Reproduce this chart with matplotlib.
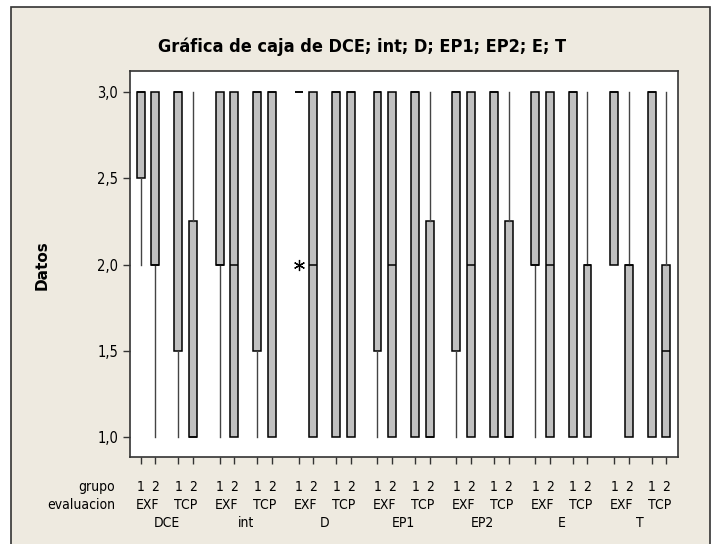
import numpy as np
import matplotlib
matplotlib.use("Agg")
import matplotlib.pyplot as plt
from matplotlib.patches import Rectangle
from matplotlib.transforms import blended_transform_factory

# %%
variables = ["DCE", "int", "D", "EP1", "EP2", "E", "T"]
evaluaciones = ["EXF", "TCP"]
grupos = ["1", "2"]

# one entry per box, order: variable -> evaluacion -> grupo
q1 = [2.5, 2.0, 1.5, 1.0,   2.0, 1.0, 1.5, 1.0,   3.0, 1.0, 1.0, 1.0,
      1.5, 1.0, 1.0, 1.0,   1.5, 1.0, 1.0, 1.0,   2.0, 1.0, 1.0, 1.0,
      2.0, 1.0, 1.0, 1.0]
med = [3.0, 2.0, 3.0, 1.0,  2.0, 2.0, 3.0, 3.0,   3.0, 2.0, 3.0, 3.0,
       3.0, 2.0, 3.0, 1.0,  3.0, 2.0, 3.0, 1.0,   2.0, 2.0, 3.0, 2.0,
       3.0, 2.0, 3.0, 1.5]
q3 = [3.0, 3.0, 3.0, 2.25,  3.0, 3.0, 3.0, 3.0,   3.0, 3.0, 3.0, 3.0,
      3.0, 3.0, 3.0, 2.25,  3.0, 3.0, 3.0, 2.25,  3.0, 3.0, 3.0, 2.0,
      3.0, 2.0, 3.0, 2.0]
whislo = [2.0, 1.0, 1.0, 1.0,  1.0, 1.0, 1.0, 1.0,  3.0, 1.0, 1.0, 1.0,
          1.0, 1.0, 1.0, 1.0,  1.0, 1.0, 1.0, 1.0,  1.0, 1.0, 1.0, 1.0,
          2.0, 1.0, 1.0, 1.0]
whishi = [3.0] * 28
outliers = {8: [2.0]}   # D / EXF / grupo 1

# %%
bg = "#eeeae0"
fig = plt.figure(figsize=(7.12, 5.44), dpi=100, facecolor="white")
fig.patches.append(Rectangle((11 / 712, -0.01), 699 / 712, 1.01 - 7 / 544,
                             transform=fig.transFigure, facecolor=bg,
                             edgecolor="#333333", linewidth=1.2, zorder=-10))

ax = fig.add_axes([130 / 712, 1 - 457 / 544, 548 / 712, 386 / 544])
ax.set_facecolor("white")

# layout of the categorical axis (in units of one box step)
group_step, eval_step, var_step = 1.0, 2.6, 5.45
positions = []
for v in range(len(variables)):
    for e in range(len(evaluaciones)):
        for g in range(len(grupos)):
            positions.append(v * var_step + e * eval_step + g * group_step)

stats = []
for i in range(28):
    stats.append(dict(q1=q1[i], med=med[i], q3=q3[i], whislo=whislo[i],
                      whishi=whishi[i], fliers=outliers.get(i, [])))

ax.bxp(stats, positions=positions, widths=0.55, patch_artist=True,
       showcaps=False, manage_ticks=False,
       boxprops=dict(facecolor="#c0c0c0", edgecolor="black", linewidth=1.1),
       medianprops=dict(color="black", linewidth=1.1),
       whiskerprops=dict(color="#444444", linewidth=1.0),
       flierprops=dict(marker=(6, 2, 0), markersize=8, markeredgecolor="black",
                       markeredgewidth=0.9))

narrow = dict(family="DejaVu Sans", stretch="condensed")

ax.set_xlim(-0.74, positions[-1] + 0.8)
ax.set_ylim(0.884, 3.122)
ax.set_yticks([1.0, 1.5, 2.0, 2.5, 3.0])
ax.set_yticklabels(["1,0", "1,5", "2,0", "2,5", "3,0"], fontsize=10.5, **narrow)
ax.set_xticks(positions)
ax.set_xticklabels([])
ax.tick_params(axis="both", direction="out", length=5, width=1, color="#333333")
for sp in ax.spines.values():
    sp.set_color("#333333")
    sp.set_linewidth(1.2)

tr = blended_transform_factory(ax.transData, fig.transFigure)
y_grp, y_eval, y_var = 1 - 487 / 544, 1 - 505 / 544, 1 - 523 / 544
fig.text(115 / 712, y_grp, "grupo", ha="right", va="center", fontsize=10, **narrow)
fig.text(115 / 712, y_eval, "evaluacion", ha="right", va="center", fontsize=10, **narrow)
for i, p in enumerate(positions):
    ax.text(p, y_grp, grupos[i % 2], transform=tr, ha="center", va="center",
            fontsize=10, **narrow)
for v, name in enumerate(variables):
    x0 = v * var_step
    for e, ev in enumerate(evaluaciones):
        ax.text(x0 + e * eval_step + 0.5, y_eval, ev, transform=tr, ha="center",
                va="center", fontsize=10, **narrow)
    ax.text(x0 + (eval_step + group_step) / 2, y_var, name, transform=tr,
            ha="center", va="center", fontsize=10, **narrow)

fig.text(362 / 712, 1 - 47 / 544, "Gráfica de caja de DCE; int; D; EP1; EP2; E; T",
         ha="center", va="center", fontsize=13, fontweight="bold", **narrow)
fig.text(42 / 712, 1 - 265 / 544, "Datos", ha="center", va="center", rotation=90,
         fontsize=11, fontweight="bold", family="DejaVu Sans")

fig.savefig("out.png", dpi=100, facecolor="white")
